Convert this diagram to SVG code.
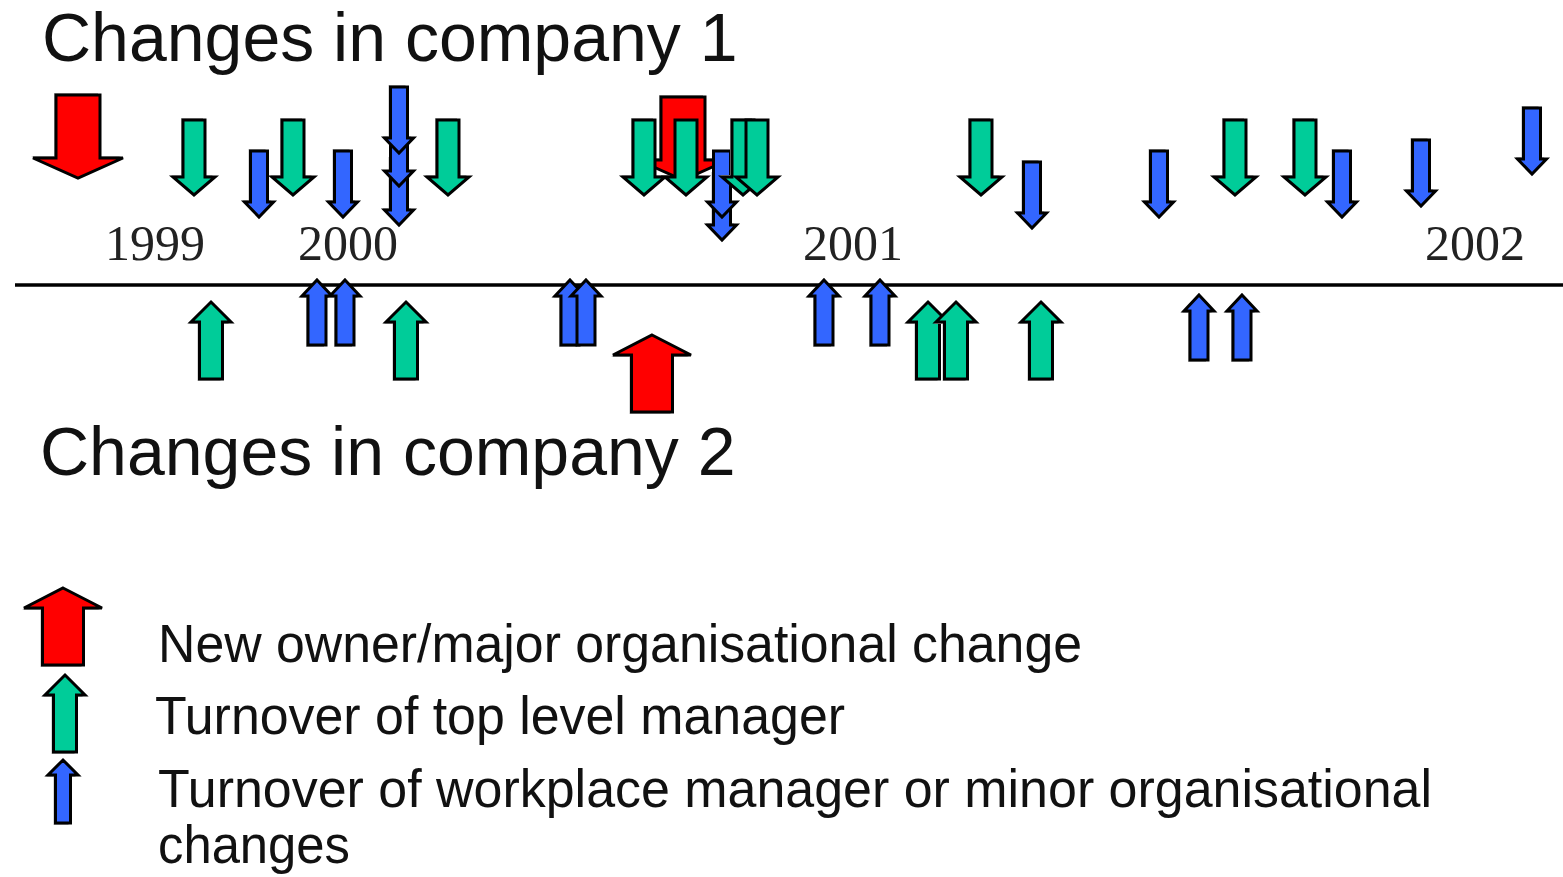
<svg xmlns="http://www.w3.org/2000/svg" width="1563" height="877" viewBox="0 0 1563 877">
<style>
.r{fill:#FF0000;stroke:#000;stroke-width:3;stroke-linejoin:miter}
.g{fill:#00CC99;stroke:#000;stroke-width:3;stroke-linejoin:miter}
.b{fill:#3366FF;stroke:#000;stroke-width:3;stroke-linejoin:miter}
.sh{fill:#b4b4b4;stroke:none}
.title{font-family:"Liberation Sans",Arial,sans-serif;font-size:68px;fill:#111}
.year{font-family:"Liberation Serif","Times New Roman",serif;font-size:50px;fill:#222}
.leg{font-family:"Liberation Sans",Arial,sans-serif;font-size:54px;fill:#111}
</style>
<defs>
<path id="gd" d="M-11,0H11V57H21L0,75L-21,57H-11Z"/>
<path id="bd" d="M-8.5,0H8.5V51H14.5L0,66L-14.5,51H-8.5Z"/>
<path id="rd" d="M-22,0H22V63H45L0,83L-45,63H-22Z"/>
<path id="gu" d="M0,0L20,20H11.5V77H-11.5V20H-20Z"/>
<path id="bu" d="M0,0L15,16H9V65H-9V16H-15Z"/>
<path id="bul" d="M0,0L15,15H7.5V63H-7.5V15H-15Z"/>
<path id="ru" d="M0,0L39,20H20.5V77H-20.5V20H-39Z"/>
</defs>

<g id="titles">
<text class="title" x="42" y="61">Changes in company 1</text>
<text class="title" x="40" y="475">Changes in company 2</text>
</g>

<g id="years">
<text class="year" x="105" y="260">1999</text>
<text class="year" x="298" y="260">2000</text>
<text class="year" x="803" y="260">2001</text>
<text class="year" x="1425" y="260">2002</text>
</g>

<g id="connectors">
<line x1="15" y1="285" x2="1563" y2="285" stroke="#000" stroke-width="3.5"/>
</g>

<g id="company1">
<g id="c1-red1"><use href="#rd" class="sh" x="76" y="93"/><use href="#rd" class="r" x="78" y="95"/></g>
<g id="c1-green1"><use href="#gd" class="sh" x="192" y="118"/><use href="#gd" class="g" x="194" y="120"/></g>
<g id="c1-blue1"><use href="#bd" class="sh" x="257" y="149"/><use href="#bd" class="b" x="259" y="151"/></g>
<g id="c1-green2"><use href="#gd" class="sh" x="291" y="118"/><use href="#gd" class="g" x="293" y="120"/></g>
<g id="c1-blue2"><use href="#bd" class="sh" x="341" y="149"/><use href="#bd" class="b" x="343" y="151"/></g>
<g id="c1-blue3"><use href="#bd" class="sh" x="397" y="157"/><use href="#bd" class="b" x="399" y="159"/></g>
<g id="c1-blue4"><use href="#bd" class="b" x="399" y="120"/></g>
<g id="c1-blue5"><use href="#bd" class="sh" x="397" y="85"/><use href="#bd" class="b" x="399" y="87"/></g>
<g id="c1-green3"><use href="#gd" class="sh" x="446" y="118"/><use href="#gd" class="g" x="448" y="120"/></g>
<g id="c1-red2"><use href="#rd" class="sh" x="681" y="95"/><use href="#rd" class="r" x="683" y="97"/></g>
<g id="c1-green4"><use href="#gd" class="sh" x="642" y="118"/><use href="#gd" class="g" x="644" y="120"/></g>
<g id="c1-green5"><use href="#gd" class="g" x="686" y="120"/></g>
<g id="c1-blue6"><use href="#bd" class="sh" x="720" y="172"/><use href="#bd" class="b" x="722" y="174"/></g>
<g id="c1-blue7"><use href="#bd" class="b" x="722" y="151"/></g>
<g id="c1-green6"><use href="#gd" class="sh" x="741" y="118"/><use href="#gd" class="g" x="743" y="120"/></g>
<g id="c1-green7"><use href="#gd" class="g" x="757" y="120"/></g>
<g id="c1-green8"><use href="#gd" class="sh" x="979" y="118"/><use href="#gd" class="g" x="981" y="120"/></g>
<g id="c1-blue8"><use href="#bd" class="sh" x="1030" y="160"/><use href="#bd" class="b" x="1032" y="162"/></g>
<g id="c1-blue9"><use href="#bd" class="sh" x="1157" y="149"/><use href="#bd" class="b" x="1159" y="151"/></g>
<g id="c1-green9"><use href="#gd" class="sh" x="1233" y="118"/><use href="#gd" class="g" x="1235" y="120"/></g>
<g id="c1-green10"><use href="#gd" class="sh" x="1303" y="118"/><use href="#gd" class="g" x="1305" y="120"/></g>
<g id="c1-blue10"><use href="#bd" class="sh" x="1340" y="149"/><use href="#bd" class="b" x="1342" y="151"/></g>
<g id="c1-blue11"><use href="#bd" class="sh" x="1419" y="138"/><use href="#bd" class="b" x="1421" y="140"/></g>
<g id="c1-blue12"><use href="#bd" class="sh" x="1530" y="106"/><use href="#bd" class="b" x="1532" y="108"/></g>
</g>

<g id="company2">
<g id="c2-green1"><use href="#gu" class="sh" x="209" y="304"/><use href="#gu" class="g" x="211" y="302"/></g>
<g id="c2-blue1"><use href="#bu" class="sh" x="315" y="282"/><use href="#bu" class="b" x="317" y="280"/></g>
<g id="c2-blue2"><use href="#bu" class="sh" x="343" y="282"/><use href="#bu" class="b" x="345" y="280"/></g>
<g id="c2-green2"><use href="#gu" class="sh" x="404" y="304"/><use href="#gu" class="g" x="406" y="302"/></g>
<g id="c2-blue3"><use href="#bu" class="sh" x="568" y="282"/><use href="#bu" class="b" x="570" y="280"/></g>
<g id="c2-blue4"><use href="#bu" class="b" x="586" y="280"/></g>
<g id="c2-red1"><use href="#ru" class="sh" x="650" y="337"/><use href="#ru" class="r" x="652" y="335"/></g>
<g id="c2-blue5"><use href="#bu" class="sh" x="822" y="282"/><use href="#bu" class="b" x="824" y="280"/></g>
<g id="c2-blue6"><use href="#bu" class="sh" x="878" y="282"/><use href="#bu" class="b" x="880" y="280"/></g>
<g id="c2-green3"><use href="#gu" class="sh" x="926" y="304"/><use href="#gu" class="g" x="928" y="302"/></g>
<g id="c2-green4"><use href="#gu" class="sh" x="954" y="304"/><use href="#gu" class="g" x="956" y="302"/></g>
<g id="c2-green5"><use href="#gu" class="sh" x="1039" y="304"/><use href="#gu" class="g" x="1041" y="302"/></g>
<g id="c2-blue7"><use href="#bu" class="sh" x="1197" y="297"/><use href="#bu" class="b" x="1199" y="295"/></g>
<g id="c2-blue8"><use href="#bu" class="sh" x="1240" y="297"/><use href="#bu" class="b" x="1242" y="295"/></g>
</g>

<g id="legend">
<g id="legend-red"><use href="#ru" class="sh" x="61" y="590"/><use href="#ru" class="r" x="63" y="588"/>
<text class="leg" x="158" y="662" textLength="924" lengthAdjust="spacingAndGlyphs">New owner/major organisational change</text></g>
<g id="legend-green"><use href="#gu" class="sh" x="63" y="677"/><use href="#gu" class="g" x="65" y="675"/>
<text class="leg" x="155" y="734" textLength="690" lengthAdjust="spacingAndGlyphs">Turnover of top level manager</text></g>
<g id="legend-blue"><use href="#bul" class="sh" x="61" y="762"/><use href="#bul" class="b" x="63" y="760"/>
<text class="leg" x="158" y="807" textLength="1274" lengthAdjust="spacingAndGlyphs">Turnover of workplace manager or minor organisational</text>
<text class="leg" x="158" y="863" textLength="192" lengthAdjust="spacingAndGlyphs">changes</text></g>
</g>
</svg>
